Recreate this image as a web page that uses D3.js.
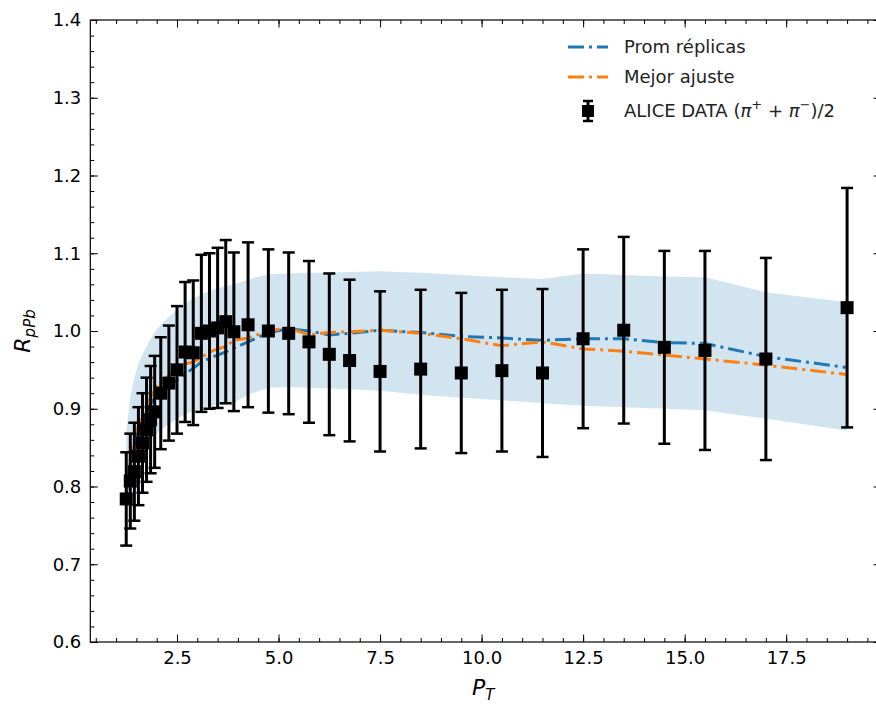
<!DOCTYPE html>
<html>
<head>
<meta charset="utf-8">
<script src="https://cdn.jsdelivr.net/npm/d3@7"></script>
<style>
  body { margin: 0; background: #fff; }
  text { font-family: "DejaVu Sans", sans-serif; }
</style>
</head>
<body>
<div id="vis"></div>
<script>
// ALICE pT bins
var pT = [1.25, 1.35, 1.45, 1.55, 1.65, 1.75, 1.85, 1.95, 2.1, 2.3, 2.5, 2.7, 2.9, 3.1, 3.3, 3.5, 3.7, 3.9,
          4.25, 4.75, 5.25, 5.75, 6.25, 6.75, 7.5, 8.5, 9.5, 10.5, 11.5, 12.5, 13.5, 14.5, 15.5, 17, 19];
var aliceR = [0.784, 0.807, 0.819, 0.839, 0.856, 0.873, 0.886, 0.896, 0.920, 0.933, 0.950, 0.973, 0.972, 0.997, 1.000, 1.004, 1.012, 0.999,
              1.008, 1.000, 0.997, 0.986, 0.970, 0.962, 0.948, 0.951, 0.946, 0.949, 0.946, 0.990, 1.001, 0.979, 0.975, 0.964, 1.030];
var aliceErr = [0.060, 0.061, 0.063, 0.063, 0.064, 0.067, 0.069, 0.072, 0.072, 0.074, 0.082, 0.090, 0.093, 0.101, 0.100, 0.103, 0.105, 0.102,
                0.106, 0.105, 0.104, 0.104, 0.104, 0.104, 0.103, 0.102, 0.103, 0.104, 0.108, 0.115, 0.120, 0.124, 0.128, 0.130, 0.154];
var promReplicas = [0.790, 0.830, 0.855, 0.872, 0.888, 0.898, 0.906, 0.914, 0.922, 0.930, 0.937, 0.945, 0.952, 0.960, 0.965, 0.969, 0.973, 0.978,
                    0.986, 0.998, 1.003, 1.000, 0.995, 0.997, 1.001, 0.998, 0.993, 0.991, 0.988, 0.990, 0.990, 0.985, 0.984, 0.967, 0.953];
var mejorAjuste = [0.795, 0.835, 0.860, 0.878, 0.895, 0.905, 0.915, 0.925, 0.935, 0.942, 0.950, 0.958, 0.960, 0.966, 0.973, 0.977, 0.980, 0.988,
                   0.991, 1.000, 1.004, 0.995, 0.998, 0.999, 1.001, 0.997, 0.990, 0.981, 0.986, 0.977, 0.974, 0.969, 0.964, 0.956, 0.944];
var bandLow = [0.780, 0.800, 0.815, 0.830, 0.840, 0.850, 0.860, 0.865, 0.873, 0.880, 0.887, 0.893, 0.897, 0.900, 0.903, 0.905, 0.906, 0.908,
               0.918, 0.927, 0.928, 0.927, 0.926, 0.925, 0.923, 0.918, 0.914, 0.911, 0.907, 0.904, 0.902, 0.900, 0.898, 0.887, 0.872];
var bandHigh = [0.870, 0.915, 0.940, 0.958, 0.970, 0.980, 0.990, 0.998, 1.008, 1.018, 1.027, 1.035, 1.042, 1.047, 1.051, 1.055, 1.058, 1.060,
                1.066, 1.073, 1.074, 1.075, 1.075, 1.076, 1.077, 1.075, 1.072, 1.069, 1.067, 1.074, 1.072, 1.070, 1.069, 1.050, 1.037];

var xTicks = [2.5, 5.0, 7.5, 10.0, 12.5, 15.0, 17.5];
var yTicks = [0.6, 0.7, 0.8, 0.9, 1.0, 1.1, 1.2, 1.3, 1.4];
var legendLabels = ["Prom réplicas", "Mejor ajuste"];

var blue = "#1f77b4", orange = "#ff7f0e";
var width = 876, height = 706;
var plotL = 90.3, plotR = 881, plotT = 20, plotB = 642;

var svg = d3.select("#vis").append("svg")
  .attr("width", width)
  .attr("height", height);

var x = d3.scaleLinear().domain([0.365, 19.835]).range([plotL, plotR]);
var y = d3.scaleLinear().domain([0.6, 1.4]).range([plotB, plotT]);

var rows = pT.map(function(p, i) {
  return {p: p, r: aliceR[i], e: aliceErr[i], blue: promReplicas[i], orange: mejorAjuste[i], lo: bandLow[i], hi: bandHigh[i]};
});

// band
svg.append("path")
  .datum(rows)
  .attr("fill", blue)
  .attr("fill-opacity", 0.2)
  .attr("d", d3.area().x(function(d){ return x(d.p); }).y0(function(d){ return y(d.lo); }).y1(function(d){ return y(d.hi); }));

var dash = "16,5,3,5";
svg.append("path")
  .datum(rows)
  .attr("fill", "none").attr("stroke", blue).attr("stroke-width", 3)
  .attr("stroke-dasharray", dash)
  .attr("d", d3.line().x(function(d){ return x(d.p); }).y(function(d){ return y(d.blue); }));
svg.append("path")
  .datum(rows)
  .attr("fill", "none").attr("stroke", orange).attr("stroke-width", 3)
  .attr("stroke-dasharray", dash)
  .attr("d", d3.line().x(function(d){ return x(d.p); }).y(function(d){ return y(d.orange); }));

// error bars
var eb = svg.append("g").attr("stroke", "#000").attr("stroke-width", 3);
rows.forEach(function(d) {
  var cx = x(d.p), y1 = y(d.r + d.e), y0 = y(d.r - d.e);
  eb.append("line").attr("x1", cx).attr("x2", cx).attr("y1", y1).attr("y2", y0);
  eb.append("line").attr("x1", cx - 6).attr("x2", cx + 6).attr("y1", y1).attr("y2", y1).attr("stroke-width", 2.5);
  eb.append("line").attr("x1", cx - 6).attr("x2", cx + 6).attr("y1", y0).attr("y2", y0).attr("stroke-width", 2.5);
});
svg.append("g").selectAll("rect").data(rows).enter().append("rect")
  .attr("x", function(d){ return x(d.p) - 6.5; })
  .attr("y", function(d){ return y(d.r) - 6.5; })
  .attr("width", 13).attr("height", 13)
  .attr("fill", "#000");

// axes with inward ticks on all sides
function styleAxis(g) {
  g.select(".domain").remove();
  g.selectAll("line").attr("stroke", "#000").attr("stroke-width", 1);
  g.selectAll("text").attr("font-size", 18).attr("fill", "#000").attr("font-family", "DejaVu Sans, sans-serif");
}
var xMinor = d3.range(0.5, 19.9, 0.5), yMinor = d3.range(0.6, 1.401, 0.02);

svg.append("g").attr("transform", "translate(0," + plotB + ")")
  .call(d3.axisBottom(x).tickValues(xMinor).tickFormat("").tickSize(-4)).call(styleAxis);
svg.append("g").attr("transform", "translate(0," + plotB + ")")
  .call(d3.axisBottom(x).tickValues(xTicks).tickFormat(d3.format(".1f")).tickSize(-7.5).tickPadding(9)).call(styleAxis);
svg.append("g").attr("transform", "translate(0," + plotT + ")")
  .call(d3.axisTop(x).tickValues(xMinor).tickFormat("").tickSize(-4)).call(styleAxis);
svg.append("g").attr("transform", "translate(0," + plotT + ")")
  .call(d3.axisTop(x).tickValues(xTicks).tickFormat("").tickSize(-7.5)).call(styleAxis);

svg.append("g").attr("transform", "translate(" + plotL + ",0)")
  .call(d3.axisLeft(y).tickValues(yMinor).tickFormat("").tickSize(-4)).call(styleAxis);
svg.append("g").attr("transform", "translate(" + plotL + ",0)")
  .call(d3.axisLeft(y).tickValues(yTicks).tickFormat(d3.format(".1f")).tickSize(-7.5).tickPadding(9)).call(styleAxis);
svg.append("g").attr("transform", "translate(" + plotR + ",0)")
  .call(d3.axisRight(y).tickValues(yMinor).tickFormat("").tickSize(-4)).call(styleAxis);
svg.append("g").attr("transform", "translate(" + plotR + ",0)")
  .call(d3.axisRight(y).tickValues(yTicks).tickFormat("").tickSize(-7.5)).call(styleAxis);

svg.append("rect")
  .attr("x", plotL).attr("y", plotT).attr("width", plotR - plotL).attr("height", plotB - plotT)
  .attr("fill", "none").attr("stroke", "#000").attr("stroke-width", 1.2);

// axis labels
svg.append("text")
  .attr("x", (plotL + 876) / 2).attr("y", 695)
  .attr("text-anchor", "middle").attr("font-size", 22).attr("font-style", "italic")
  .text("P").append("tspan").attr("font-size", 15).attr("dy", 5).text("T");

var yl = svg.append("text")
  .attr("transform", "translate(30," + ((plotT + plotB) / 2) + ") rotate(-90)")
  .attr("text-anchor", "middle").attr("font-size", 22).attr("font-style", "italic");
yl.append("tspan").text("R");
yl.append("tspan").attr("font-size", 15).attr("dy", 5).text("pPb");

// legend
var lg = svg.append("g");
[blue, orange].forEach(function(c, i) {
  var ly = 47 + i * 30;
  lg.append("line").attr("x1", 568).attr("x2", 608).attr("y1", ly).attr("y2", ly)
    .attr("stroke", c).attr("stroke-width", 3).attr("stroke-dasharray", dash);
  lg.append("text").attr("x", 624).attr("y", ly + 6).attr("font-size", 18).attr("fill", "#222").text(legendLabels[i]);
});
var ly3 = 111;
lg.append("line").attr("x1", 588).attr("x2", 588).attr("y1", ly3 - 10).attr("y2", ly3 + 10).attr("stroke", "#000").attr("stroke-width", 3);
lg.append("line").attr("x1", 583).attr("x2", 593).attr("y1", ly3 - 10).attr("y2", ly3 - 10).attr("stroke", "#000").attr("stroke-width", 2.5);
lg.append("line").attr("x1", 583).attr("x2", 593).attr("y1", ly3 + 10).attr("y2", ly3 + 10).attr("stroke", "#000").attr("stroke-width", 2.5);
lg.append("rect").attr("x", 582).attr("y", ly3 - 6).attr("width", 12).attr("height", 12).attr("fill", "#000");
var t3 = lg.append("text").attr("x", 624).attr("y", ly3 + 6).attr("font-size", 18).attr("fill", "#222");
t3.append("tspan").text("ALICE DATA (");
t3.append("tspan").attr("font-style", "italic").text("π");
t3.append("tspan").attr("font-size", 13).attr("dy", -8).text("+");
t3.append("tspan").attr("dy", 8).text(" + ");
t3.append("tspan").attr("font-style", "italic").text("π");
t3.append("tspan").attr("font-size", 13).attr("dy", -8).text("−");
t3.append("tspan").attr("dy", 8).text(")/2");
</script>
</body>
</html>
